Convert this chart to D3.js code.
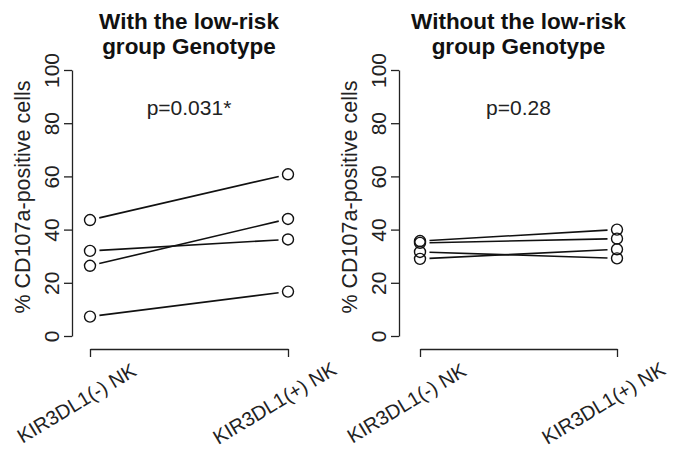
<!DOCTYPE html>
<html>
<head>
<meta charset="utf-8">
<script src="https://cdn.jsdelivr.net/npm/d3@7"></script>
<style>
  html, body { margin: 0; padding: 0; background: #fff; }
  svg { display: block; font-family: "Liberation Sans", Arial, Helvetica, sans-serif; }
</style>
</head>
<body>
<svg id="chart" width="673" height="450"></svg>
<script>
// ---- data ----
const categories = ["KIR3DL1(-) NK", "KIR3DL1(+) NK"];
const yTicks = [0, 20, 40, 60, 80, 100];
const yTitle = "% CD107a-positive cells";

const titlesLeft = ["With the low-risk", "group Genotype"];
const titlesRight = ["Without the low-risk", "group Genotype"];
const pLeft = "p=0.031*";
const pRight = "p=0.28";

// paired values: [KIR3DL1(-), KIR3DL1(+)]
const withNeg  = [43.6, 32.0, 26.4, 7.3];
const withPos  = [60.8, 36.3, 44.0, 16.7];
const withoutNeg = [35.7, 35.0, 31.6, 29.0];
const withoutPos = [40.0, 36.6, 29.2, 32.6];

// ---- drawing ----
const svg = d3.select("#chart");
const FONT = 21;

function panel(opts) {
  const g = svg.append("g");
  const x = d3.scalePoint().domain(categories).range([opts.x0, opts.x1]);
  const y = d3.scaleLinear().domain([0, 100]).range([336, 70]);

  // y axis (R-style bracket spanning ticks)
  const yAxis = d3.axisLeft(y).tickValues(yTicks).tickSize(8).tickSizeOuter(0).tickFormat(d3.format("d"));
  const ya = g.append("g").attr("transform", `translate(${opts.axisX},0)`).call(yAxis);
  ya.select(".domain").attr("stroke", "#222").attr("stroke-width", 1.3);
  ya.selectAll(".tick line").attr("stroke", "#222").attr("stroke-width", 1.3);
  ya.selectAll(".tick text").remove();
  ya.selectAll(".tick").append("text")
    .attr("transform", "rotate(-90)")
    .attr("x", 0).attr("y", -13)
    .attr("text-anchor", "middle")
    .attr("fill", "#222")
    .attr("font-size", FONT)
    .text(d => d);

  // y title
  g.append("text")
    .attr("transform", `translate(${opts.axisX - 42},${(y(0) + y(100)) / 2 - 6}) rotate(-90)`)
    .attr("text-anchor", "middle")
    .attr("fill", "#222")
    .attr("font-size", 21.5)
    .text(yTitle);

  // x axis bracket
  const xa = g.append("g").attr("transform", "translate(0,349)")
    .call(d3.axisBottom(x).tickSize(8).tickSizeOuter(0));
  xa.select(".domain").attr("stroke", "#222").attr("stroke-width", 1.3);
  xa.selectAll(".tick line").attr("stroke", "#222").attr("stroke-width", 1.3);
  xa.selectAll(".tick text").remove();
  xa.selectAll(".tick").append("text")
    .attr("transform", "translate(-14,54) rotate(-31)")
    .attr("text-anchor", "middle")
    .attr("dominant-baseline", "central")
    .attr("fill", "#222")
    .attr("font-size", 20)
    .text(d => d);

  // title
  g.append("text")
    .attr("x", (opts.x0 + opts.x1) / 2).attr("y", 29)
    .attr("text-anchor", "middle").attr("font-weight", "bold").attr("font-size", 22.5).attr("fill", "#111")
    .text(opts.title[0]);
  g.append("text")
    .attr("x", (opts.x0 + opts.x1) / 2).attr("y", 54)
    .attr("text-anchor", "middle").attr("font-weight", "bold").attr("font-size", 22.5).attr("fill", "#111")
    .text(opts.title[1]);

  // p-value
  g.append("text")
    .attr("x", (opts.x0 + opts.x1) / 2).attr("y", 115)
    .attr("text-anchor", "middle").attr("font-size", FONT).attr("fill", "#222")
    .text(opts.p);

  // paired lines with gaps (R type="b")
  const gap = 9.5;
  const pairs = opts.neg.map((v, i) => [v, opts.pos[i]]);
  g.selectAll("line.pair").data(pairs).join("line")
    .attr("class", "pair")
    .each(function (d) {
      const ax = x(categories[0]), ay = y(d[0]), bx = x(categories[1]), by = y(d[1]);
      const len = Math.hypot(bx - ax, by - ay);
      const ux = (bx - ax) / len, uy = (by - ay) / len;
      d3.select(this)
        .attr("x1", ax + ux * gap).attr("y1", ay + uy * gap)
        .attr("x2", bx - ux * gap).attr("y2", by - uy * gap);
    })
    .attr("stroke", "#111").attr("stroke-width", 1.6);

  const pts = [];
  opts.neg.forEach(v => pts.push([categories[0], v]));
  opts.pos.forEach(v => pts.push([categories[1], v]));
  g.selectAll("circle.pt").data(pts).join("circle")
    .attr("class", "pt")
    .attr("cx", d => x(d[0])).attr("cy", d => y(d[1]))
    .attr("r", 5.5)
    .attr("fill", "none").attr("stroke", "#111").attr("stroke-width", 1.4);
}

panel({ x0: 90, x1: 288, axisX: 72, title: titlesLeft, p: pLeft, neg: withNeg, pos: withPos });
panel({ x0: 420, x1: 617, axisX: 399, title: titlesRight, p: pRight, neg: withoutNeg, pos: withoutPos });
</script>
</body>
</html>
